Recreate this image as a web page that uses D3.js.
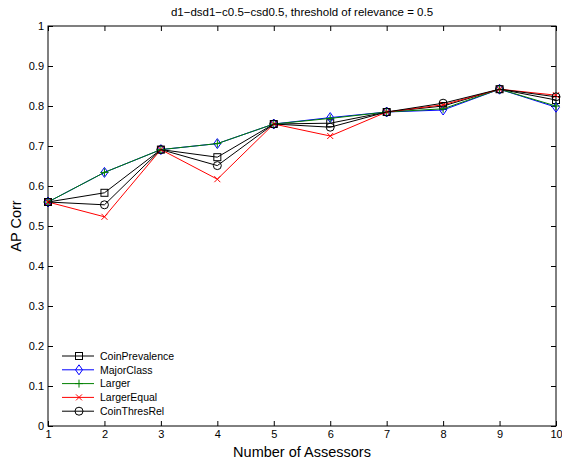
<!DOCTYPE html>
<html><head><meta charset="utf-8">
<script src="https://cdn.jsdelivr.net/npm/d3@7"></script>
<style>body{margin:0;background:#fff}svg{display:block}text{font-family:"Liberation Sans",Arial,Helvetica,sans-serif;fill:#000}</style>
</head><body>
<script>
const assessors = [1,2,3,4,5,6,7,8,9,10];
const coinPrevalence = [0.56,0.583,0.691,0.672,0.755,0.757,0.785,0.800,0.842,0.815];
const majorClass     = [0.56,0.634,0.691,0.706,0.755,0.771,0.785,0.790,0.842,0.797];
const larger         = [0.56,0.634,0.691,0.706,0.755,0.769,0.785,0.793,0.842,0.800];
const largerEqual    = [0.56,0.523,0.691,0.617,0.755,0.725,0.785,0.803,0.842,0.827];
const coinThresRel   = [0.56,0.553,0.691,0.651,0.755,0.747,0.785,0.807,0.842,0.823];
const seriesNames = ["CoinPrevalence","MajorClass","Larger","LargerEqual","CoinThresRel"];
const yTicks = [0,0.1,0.2,0.3,0.4,0.5,0.6,0.7,0.8,0.9,1];
const titleText = "d1\u2212dsd1\u2212c0.5\u2212csd0.5, threshold of relevance = 0.5";

const series = [
  {name:seriesNames[0], values:coinPrevalence, color:"#000", marker:"square"},
  {name:seriesNames[1], values:majorClass, color:"#0000ff", marker:"diamond"},
  {name:seriesNames[2], values:larger, color:"#008000", marker:"plus"},
  {name:seriesNames[3], values:largerEqual, color:"#ff0000", marker:"cross"},
  {name:seriesNames[4], values:coinThresRel, color:"#000", marker:"circle"}
];

const W=562,H=461, L=48, R=556, T=26, B=426;
const svg=d3.select("body").append("svg").attr("width",W).attr("height",H);
const x=d3.scaleLinear().domain([1,10]).range([L,R]);
const y=d3.scaleLinear().domain([0,1]).range([B,T]);

const fmt=d=>d3.format("~g")(d);
const gB=svg.append("g").attr("transform",`translate(0,${B})`).call(d3.axisBottom(x).tickValues(assessors).tickSize(-5).tickPadding(4).tickFormat(fmt));
const gT=svg.append("g").attr("transform",`translate(0,${T})`).call(d3.axisTop(x).tickValues(assessors).tickSize(-5).tickFormat(""));
const gL=svg.append("g").attr("transform",`translate(${L},0)`).call(d3.axisLeft(y).tickValues(yTicks).tickSize(-5).tickPadding(4).tickFormat(fmt));
const gR=svg.append("g").attr("transform",`translate(${R},0)`).call(d3.axisRight(y).tickValues(yTicks).tickSize(-5).tickFormat(""));
[gB,gT,gL,gR].forEach(g=>{g.select(".domain").remove();g.selectAll("line").attr("stroke","#000");g.selectAll("text").attr("font-size",11).style("font-family","Liberation Sans, Arial, sans-serif");});
svg.append("rect").attr("x",L).attr("y",T).attr("width",R-L).attr("height",B-T).attr("fill","none").attr("stroke","#000").attr("stroke-width",1);

svg.append("text").attr("x",(L+R)/2).attr("y",16).attr("text-anchor","middle").attr("font-size",11.5).text(titleText);
svg.append("text").attr("x",(L+R)/2).attr("y",457).attr("text-anchor","middle").attr("font-size",14.5).text("Number of Assessors");
svg.append("text").attr("transform",`translate(21,${(T+B)/2}) rotate(-90)`).attr("text-anchor","middle").attr("font-size",14.5).text("AP Corr");

function drawMarker(g,type,cx,cy,color){
  const s=3.5;
  if(type==="square") g.append("rect").attr("x",cx-s).attr("y",cy-s).attr("width",2*s).attr("height",2*s).attr("fill","none").attr("stroke",color);
  else if(type==="diamond") g.append("path").attr("d",`M${cx},${cy-5}L${cx+3.5},${cy}L${cx},${cy+5}L${cx-3.5},${cy}Z`).attr("fill","none").attr("stroke",color);
  else if(type==="plus") g.append("path").attr("d",`M${cx-4},${cy}H${cx+4}M${cx},${cy-4}V${cy+4}`).attr("stroke",color);
  else if(type==="cross") g.append("path").attr("d",`M${cx-3},${cy-3}L${cx+3},${cy+3}M${cx-3},${cy+3}L${cx+3},${cy-3}`).attr("stroke",color);
  else if(type==="circle") g.append("circle").attr("cx",cx).attr("cy",cy).attr("r",4).attr("fill","none").attr("stroke",color);
}

const line=d3.line().x((d,i)=>x(assessors[i])).y(d=>y(d));
series.forEach(s=>{
  const g=svg.append("g");
  g.append("path").attr("d",line(s.values)).attr("fill","none").attr("stroke",s.color).attr("stroke-width",1);
  s.values.forEach((v,i)=>drawMarker(g,s.marker,x(assessors[i]),y(v),s.color));
});

const lg=svg.append("g");
series.forEach((s,i)=>{
  const ly=356+i*13.8;
  lg.append("line").attr("x1",62).attr("x2",94).attr("y1",ly).attr("y2",ly).attr("stroke",s.color);
  drawMarker(lg,s.marker,79,ly,s.color);
  lg.append("text").attr("x",100).attr("y",ly+3.8).attr("font-size",10.5).text(s.name);
});
</script>
</body></html>
